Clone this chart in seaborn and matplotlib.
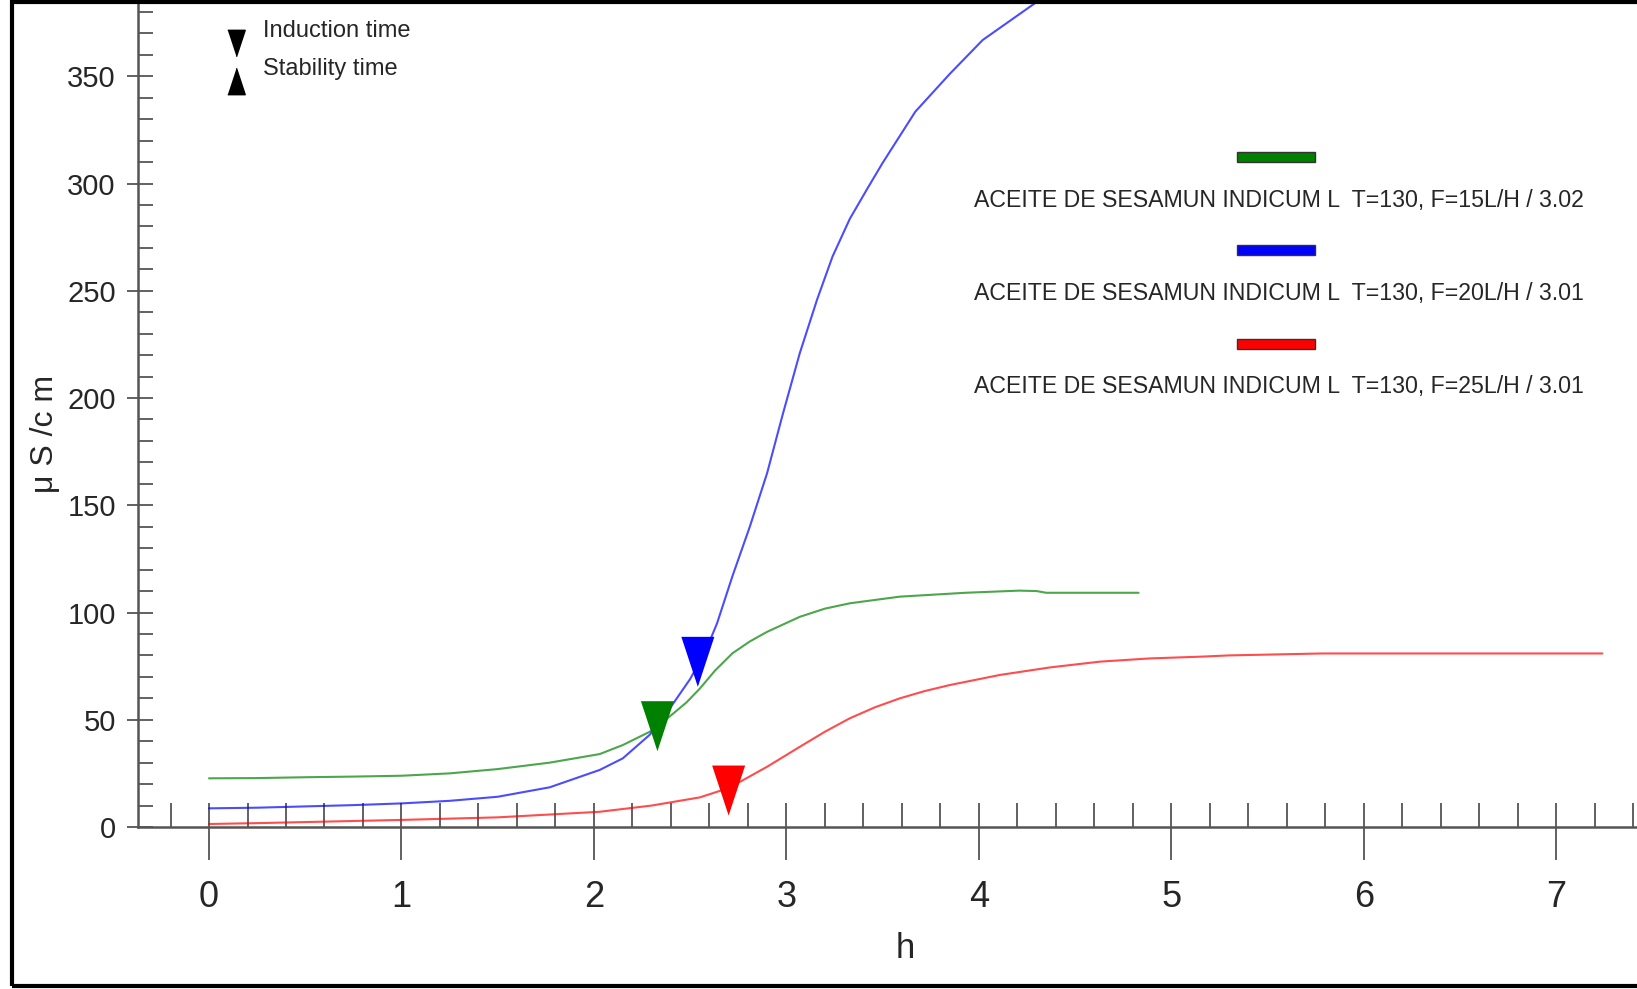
import numpy as np
import pandas as pd
import matplotlib.pyplot as plt
import seaborn as sns
from matplotlib.lines import Line2D
from matplotlib.patches import Rectangle
from matplotlib.ticker import MultipleLocator

# curvas de conductividad (h, uS/cm)
h_15 = [0.00, 0.25, 0.50, 0.75, 1.00, 1.25, 1.50, 1.77, 2.03, 2.15, 2.29, 2.40, 2.48, 2.55,
        2.63, 2.72, 2.81, 2.90, 3.07, 3.20, 3.33, 3.59, 3.93, 4.21, 4.30, 4.35, 4.83]
us_15 = [22.7, 22.8, 23.2, 23.5, 23.9, 25.0, 27.0, 30.0, 34.0, 38.2, 44.4, 52.0, 58.0, 64.5,
         73.0, 81.0, 86.5, 91.0, 98.0, 101.8, 104.3, 107.4, 109.2, 110.2, 110.0, 109.2, 109.2]

h_20 = [0.00, 0.25, 0.50, 0.75, 1.00, 1.25, 1.50, 1.77, 2.03, 2.15, 2.29, 2.40, 2.50, 2.58,
        2.64, 2.72, 2.81, 2.90, 2.98, 3.07, 3.16, 3.24, 3.33, 3.42, 3.50, 3.67, 3.85, 4.02, 4.30]
us_20 = [8.7, 9.0, 9.6, 10.2, 11.0, 12.2, 14.1, 18.5, 26.6, 32.0, 43.0, 56.0, 69.0, 82.0,
         95.0, 117.0, 140.0, 165.0, 192.0, 221.0, 246.0, 266.0, 283.6, 297.5, 309.6, 333.5,
         351.2, 366.9, 384.6]

h_25 = [0.00, 0.25, 0.50, 0.75, 1.00, 1.50, 2.03, 2.30, 2.55, 2.66, 2.76, 2.90, 3.07, 3.20,
        3.33, 3.46, 3.59, 3.72, 3.85, 4.11, 4.37, 4.63, 4.89, 5.15, 5.30, 5.78, 6.50, 7.24]
us_25 = [1.4, 1.8, 2.3, 2.8, 3.3, 4.5, 7.1, 10.0, 13.8, 17.0, 21.1, 28.1, 37.4, 44.4,
         50.7, 55.8, 60.0, 63.4, 66.2, 70.9, 74.4, 77.1, 78.6, 79.4, 80.0, 80.9, 80.9, 80.9]

# tiempo de induccion (marcadores)
ind_h = [2.33, 2.54, 2.70]
ind_us = [47, 77, 17]

series = ["ACEITE DE SESAMUN INDICUM L  T=130, F=15L/H / 3.02",
          "ACEITE DE SESAMUN INDICUM L  T=130, F=20L/H / 3.01",
          "ACEITE DE SESAMUN INDICUM L  T=130, F=25L/H / 3.01"]
colores = ["#008000", "#0000ff", "#ff0000"]

df = pd.concat([
    pd.DataFrame({"h": h_15, "us": us_15, "serie": series[0]}),
    pd.DataFrame({"h": h_20, "us": us_20, "serie": series[1]}),
    pd.DataFrame({"h": h_25, "us": us_25, "serie": series[2]}),
])
marcas = pd.DataFrame({"h": ind_h, "us": ind_us, "serie": series})

sns.set_style("ticks")
plt.rcParams['font.family'] = ['Liberation Sans', 'DejaVu Sans']

W, H = 1637, 989
f = plt.figure(figsize=(W / 100, H / 100), dpi=100)
ax = f.add_axes([138 / W, (H - 827) / H, 1 - 138 / W, (827 - 4) / H])

paleta = dict(zip(series, colores))
sns.lineplot(data=df, x="h", y="us", hue="serie", palette=paleta, sort=False,
             linewidth=1.5, alpha=0.7, legend=False, ax=ax)

tri_abajo = [(-0.66, 1), (0.66, 1), (0, -1)]
tri_arriba = [(-0.66, -1), (0.66, -1), (0, 1)]
sns.scatterplot(data=marcas, x="h", y="us", hue="serie", palette=paleta, marker=tri_abajo,
                s=36 ** 2, linewidth=0, legend=False, ax=ax, zorder=5)

ax.set_xlim(-0.369, 7.42)
ax.set_ylim(0, 383.7)
ax.set_xticks(range(8))
ax.set_yticks(range(0, 351, 50))
ax.xaxis.set_minor_locator(MultipleLocator(0.2))
ax.yaxis.set_minor_locator(MultipleLocator(10))
ax.xaxis.remove_overlapping_locs = False
ax.yaxis.remove_overlapping_locs = False

gris = "#555555"
for s in ["top", "right"]:
    ax.spines[s].set_visible(False)
for s in ["left", "bottom"]:
    ax.spines[s].set_color(gris)
    ax.spines[s].set_linewidth(1.8)
ax.tick_params(axis="x", which="major", direction="out", length=24, width=1.3, color=gris,
               labelsize=26, pad=14)
ax.tick_params(axis="x", which="minor", direction="in", length=17, width=1.3, color=gris)
ax.tick_params(axis="y", which="major", direction="out", length=8, width=1.3, color=gris,
               labelsize=21, pad=8)
ax.tick_params(axis="y", which="minor", direction="in", length=11, width=1.3, color=gris)

ax.set_xlabel("h", fontsize=25)
ax.xaxis.set_label_coords(0.512, -0.128)
ax.set_ylabel("\u03bc S /c m", fontsize=23)
ax.yaxis.set_label_coords(-0.052, 0.4775)

# leyenda superior izquierda
for y, lab, tri in [(31, "Induction time", tri_abajo), (69, "Stability time", tri_arriba)]:
    f.text(263 / W, 1 - y / H, lab, fontsize=17, va="center", ha="left")
    f.add_artist(Line2D([236 / W], [1 - (y + 12) / H], transform=f.transFigure, marker=tri,
                        markersize=19, color="black", linestyle="none"))

# leyenda derecha: barra de color sobre el texto
for i, (lab, c) in enumerate(zip(series, colores)):
    yb = 157 + 93.5 * i
    f.add_artist(Rectangle((1237 / W, 1 - (yb + 5) / H), 78 / W, 10 / H,
                           transform=f.transFigure, facecolor=c, edgecolor="#333333", lw=1))
    f.text(1279 / W, 1 - (yb + 43) / H, lab, fontsize=16.7, ha="center", va="center")

# marco exterior
f.add_artist(Rectangle((12 / W, 3 / H), 1.1, (H - 5) / H, transform=f.transFigure,
                       fill=False, edgecolor="black", lw=3, clip_on=False))

f.savefig("out.png", dpi=100)
